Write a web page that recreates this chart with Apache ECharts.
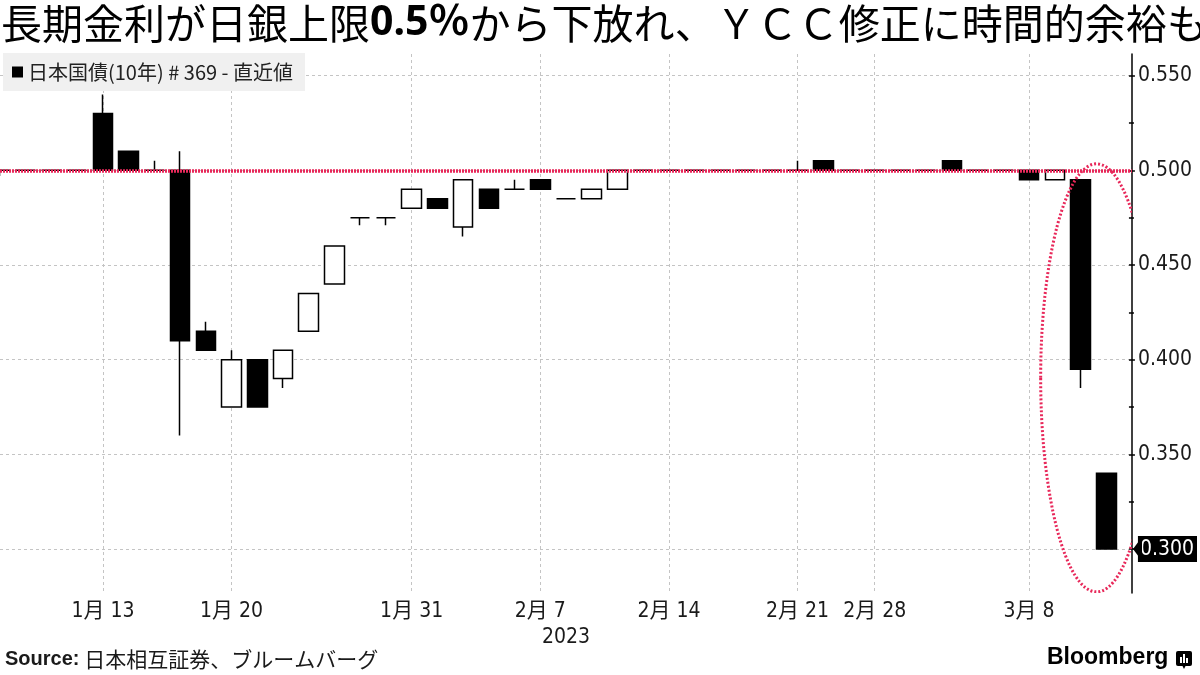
<!DOCTYPE html>
<html><head><meta charset="utf-8">
<script src="https://cdn.jsdelivr.net/npm/echarts@6/dist/echarts.min.js"></script>
<style>html,body{margin:0;padding:0;background:#fff}#c{width:1200px;height:675px}</style>
</head><body><div id="c"></div>
<script>
// ---- data (JGB 10y #369 daily candles, %) ----
const dates = ['1/6','1/10','1/11','1/12','1/13','1/16','1/17','1/18','1/19','1/20',
  '1/23','1/24','1/25','1/26','1/27','1/30','1/31','2/1','2/2','2/3',
  '2/6','2/7','2/8','2/9','2/10','2/13','2/14','2/15','2/16','2/17',
  '2/20','2/21','2/22','2/24','2/28','3/1','3/2','3/3','3/6','3/7',
  '3/8','3/9','3/10','3/13'];
const openV  = [0.500,0.500,0.500,0.500,0.530,0.510,0.500,0.500,0.415,0.375,
  0.400,0.390,0.415,0.440,0.475,0.475,0.480,0.485,0.470,0.490,
  0.490,0.495,0.485,0.485,0.490,0.500,0.500,0.500,0.500,0.500,
  0.500,0.500,0.505,0.500,0.500,0.500,0.500,0.505,0.500,0.500,
  0.500,0.495,0.495,0.340];
const closeV = [0.500,0.500,0.500,0.500,0.500,0.500,0.500,0.410,0.405,0.400,
  0.375,0.405,0.435,0.460,0.475,0.475,0.490,0.480,0.495,0.480,
  0.490,0.490,0.485,0.490,0.500,0.500,0.500,0.500,0.500,0.500,
  0.500,0.500,0.500,0.500,0.500,0.500,0.500,0.500,0.500,0.500,
  0.495,0.500,0.395,0.300];
const lowV   = [0.497,0.500,0.500,0.500,0.500,0.500,0.500,0.360,0.405,0.375,
  0.375,0.385,0.415,0.440,0.471,0.471,0.480,0.480,0.465,0.480,
  0.490,0.490,0.485,0.485,0.490,0.500,0.500,0.500,0.500,0.500,
  0.500,0.500,0.500,0.500,0.500,0.500,0.500,0.500,0.500,0.500,
  0.495,0.495,0.385,0.300];
const highV  = [0.500,0.500,0.500,0.500,0.540,0.510,0.505,0.510,0.420,0.405,
  0.400,0.405,0.435,0.460,0.475,0.475,0.490,0.485,0.495,0.490,
  0.495,0.495,0.485,0.490,0.500,0.500,0.500,0.500,0.500,0.500,
  0.500,0.505,0.505,0.500,0.500,0.500,0.500,0.505,0.500,0.500,
  0.500,0.500,0.495,0.340];
const labelDates = ['1/13','1/20','1/31','2/7','2/14','2/21','2/28','3/8'];
const yTickMin = 0.300, yTickMax = 0.550, yTickStep = 0.050;
const yMin = 0.2768, yMax = 0.5614;
const capLevel = 0.5;          // BOJ upper limit
const seriesName = '日本国債(10年) # 369 - 直近値';
const yearLabel = '2023';
// annotation ellipse (category index / value units)
const ellLeftIdx = 40.45, ellRightIdx = 44.8, ellTop = 0.5034, ellBottom = 0.2774;

const RED = '#e8285a';
const TXT = '#1a1a1a';
const LATIN = "'DejaVu Sans Condensed','DejaVu Sans','Noto Sans CJK JP'";
const JP = "'Noto Sans CJK JP'";

const categories = dates.concat(['']);
const labelSet = new Set(labelDates);
const candleData = dates.map((d, i) => [openV[i], closeV[i], lowV[i], highV[i]]);
const lastClose = closeV[closeV.length - 1];

const G_LEFT = 0, G_RIGHT = 68, G_TOP = 54, G_BOTTOM = 82, H = 675 - G_TOP - G_BOTTOM;
const g1Top = G_TOP + (yMax - yTickMax) / (yMax - yMin) * H;
const g1Bottom = G_BOTTOM + (yTickMin - yMin) / (yMax - yMin) * H;

const chart = echarts.init(document.getElementById('c'), null, {renderer: 'canvas'});
chart.setOption({
  animation: false,
  backgroundColor: '#fff',
  legend: {
    left: 3, top: 53, padding: [9, 12, 9, 9], backgroundColor: '#f0f0f0',
    itemWidth: 11, itemHeight: 11, itemGap: 5, selectedMode: false,
    textStyle: {fontSize: 20, color: '#222', fontFamily: JP},
    data: [{name: seriesName, icon: 'rect', itemStyle: {color: '#000', borderWidth: 0}}]
  },
  grid: [
    {left: G_LEFT, right: G_RIGHT, top: G_TOP, bottom: G_BOTTOM},
    {left: G_LEFT, right: G_RIGHT, top: g1Top, bottom: g1Bottom}
  ],
  xAxis: [
    {
      type: 'category', gridIndex: 0, data: categories, boundaryGap: false,
      axisLine: {show: false}, axisTick: {show: false},
      axisLabel: {
        interval: (i, v) => labelSet.has(v), margin: 8,
        formatter: v => { const p = v.split('/'); return p[0] + '月 ' + p[1]; },
        fontSize: 21, color: TXT, fontFamily: LATIN
      },
      splitLine: {show: true, interval: (i, v) => labelSet.has(v),
        lineStyle: {color: '#c4c4c4', width: 1, type: [3, 3]}},
      name: yearLabel, nameLocation: 'middle', nameGap: 33,
      nameTextStyle: {fontSize: 21, color: TXT, fontFamily: LATIN}
    },
    {type: 'category', gridIndex: 1, show: false, data: ['']}
  ],
  yAxis: [
    {
      type: 'value', gridIndex: 0, position: 'right', min: yMin, max: yMax,
      axisLine: {show: true, onZero: false, lineStyle: {color: '#000', width: 1.5}},
      axisTick: {show: false}, axisLabel: {show: false}, splitLine: {show: false}
    },
    {
      type: 'value', gridIndex: 1, position: 'right', min: yTickMin, max: yTickMax, interval: yTickStep,
      axisLine: {show: false, onZero: false},
      axisTick: {show: true, inside: false, length: 6, lineStyle: {color: '#000', width: 1.5}},
      minorTick: {show: true, splitNumber: 2, length: 5, lineStyle: {color: '#000', width: 1.5}},
      splitLine: {show: true, lineStyle: {color: '#c4c4c4', width: 1, type: [3, 3]}},
      axisLabel: {
        margin: 9, fontSize: 21, color: TXT, fontFamily: LATIN,
        formatter: v => Math.abs(v - lastClose) < 1e-9 ? '{hl|' + v.toFixed(3) + '}' : v.toFixed(3),
        rich: {hl: {backgroundColor: '#000', color: '#fff', fontSize: 21, fontFamily: LATIN, padding: [3, 3, 2, 2]}}
      }
    }
  ],
  series: [
    {
      type: 'candlestick', name: seriesName, xAxisIndex: 0, yAxisIndex: 0,
      data: candleData, barWidth: 20,
      itemStyle: {color: '#fff', color0: '#000', borderColor: '#000', borderColor0: '#000',
        borderColorDoji: '#000', borderWidth: 1.5},
      emphasis: {disabled: true},
      markLine: {
        silent: true, symbol: 'none', label: {show: false}, z: 10,
        lineStyle: {color: RED, width: 3.5, type: [2, 1], opacity: 1},
        data: [{yAxis: capLevel}]
      }
    },
    {
      type: 'custom', xAxisIndex: 0, yAxisIndex: 0, clip: true, silent: true, z: 10,
      data: [[0, capLevel]],
      renderItem: (params, api) => {
        const a = api.coord([40, ellTop]);
        const b = api.coord([41, ellBottom]);
        const band = b[0] - a[0];
        const xl = a[0] + (ellLeftIdx - 40) * band;
        const xr = a[0] + (ellRightIdx - 40) * band;
        return {
          type: 'ellipse',
          shape: {cx: (xl + xr) / 2, cy: (a[1] + b[1]) / 2, rx: (xr - xl) / 2, ry: (b[1] - a[1]) / 2},
          style: {fill: 'none', stroke: RED, lineWidth: 3, lineDash: [2, 2]}
        };
      }
    }
  ]
});

const ay = chart.convertToPixel({yAxisIndex: 0}, lastClose);
const ax = chart.convertToPixel({xAxisIndex: 0}, categories.length - 1);

chart.setOption({
  graphic: [
    {
      type: 'text', left: 1, top: 3, z: 20,
      style: {
        text: '長期金利が日銀上限{b|0.5％}から下放れ、ＹＣＣ修正に時間的余裕も',
        fontSize: 41, fontFamily: JP, fill: '#000',
        rich: {b: {fontSize: 41, fontWeight: 'bold', fontFamily: "'Noto Sans','Noto Sans CJK JP'"}}
      }
    },
    {
      type: 'text', left: 5, top: 649, z: 20,
      style: {
        text: '{b|Source:} 日本相互証券、ブルームバーグ',
        fontSize: 21, fontFamily: JP, fill: TXT,
        rich: {b: {fontSize: 20, fontWeight: 'bold', fontFamily: "'Liberation Sans'", fill: TXT}}
      }
    },
    {
      type: 'text', left: 1047, top: 646, z: 20,
      style: {text: 'Bloomberg', fontSize: 23, fontWeight: 'bold', fontFamily: "'Liberation Sans'", fill: '#000'}
    },
    {
      type: 'group', left: 1176, top: 651, z: 20,
      children: [
        {type: 'rect', shape: {x: 0, y: 0, width: 16, height: 15, r: 2}, style: {fill: '#000'}},
        {type: 'polygon', shape: {points: [[6, 14], [10, 14], [8, 18]]}, style: {fill: '#000'}},
        {type: 'rect', shape: {x: 4, y: 6, width: 2, height: 6}, style: {fill: '#fff'}},
        {type: 'rect', shape: {x: 7, y: 3, width: 2, height: 9}, style: {fill: '#fff'}},
        {type: 'rect', shape: {x: 10, y: 7, width: 2, height: 5}, style: {fill: '#fff'}}
      ]
    },
    {
      type: 'polygon', z: 20,
      shape: {points: [[ax + 1, ay], [ax + 10, ay - 12], [ax + 10, ay + 12]]},
      style: {fill: '#000'}
    }
  ]
});
</script>
</body></html>
